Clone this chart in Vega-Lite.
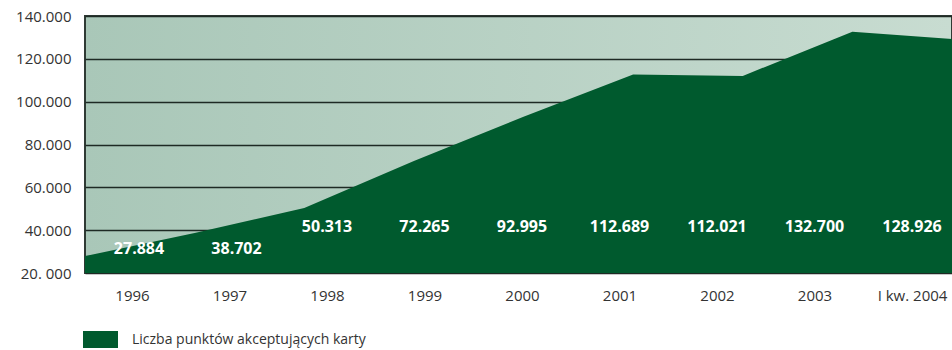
{
  "$schema": "https://vega.github.io/schema/vega-lite/v6.json",
  "autosize": "none",
  "width": 867,
  "height": 257,
  "padding": {"left": 85, "top": 16, "right": 0, "bottom": 77},
  "background": "white",
  "config": {
    "font": "Open Sans",
    "locale": {"number": {"decimal": ",", "thousands": ".", "grouping": [3], "currency": ["", " zł"]}},
    "view": {
      "stroke": "#2f3a34",
      "strokeWidth": 2,
      "fill": {
        "gradient": "linear",
        "x1": 0, "y1": 0, "x2": 1, "y2": 0,
        "stops": [
          {"offset": 0, "color": "#a9c7b8"},
          {"offset": 1, "color": "#c8dcd1"}
        ]
      }
    }
  },
  "data": {
    "values": [
      {"year": "1996", "value": 27884, "series": "Liczba punktów akceptujących karty"},
      {"year": "1997", "value": 38702, "series": "Liczba punktów akceptujących karty"},
      {"year": "1998", "value": 50313, "series": "Liczba punktów akceptujących karty"},
      {"year": "1999", "value": 72265, "series": "Liczba punktów akceptujących karty"},
      {"year": "2000", "value": 92995, "series": "Liczba punktów akceptujących karty"},
      {"year": "2001", "value": 112689, "series": "Liczba punktów akceptujących karty"},
      {"year": "2002", "value": 112021, "series": "Liczba punktów akceptujących karty"},
      {"year": "2003", "value": 132700, "series": "Liczba punktów akceptujących karty"},
      {"year": "I kw. 2004", "value": 128926, "series": "Liczba punktów akceptujących karty"}
    ]
  },
  "layer": [
    {
      "mark": {"type": "area", "clip": true, "interpolate": "linear"},
      "encoding": {
        "x": {
          "field": "year", "type": "ordinal", "sort": null,
          "scale": {"type": "point", "range": [0, 877], "padding": 0},
          "axis": null
        },
        "y": {
          "field": "value", "type": "quantitative",
          "scale": {"domain": [20000, 140000], "zero": false, "nice": false},
          "axis": {
            "values": [20000, 40000, 60000, 80000, 100000, 120000, 140000],
            "labelExpr": "datum.value == 20000 ? '20. 000' : format(datum.value, ',d')",
            "title": null,
            "domain": false,
            "ticks": false,
            "grid": true,
            "gridColor": "#1e2a24",
            "gridWidth": 1.3,
            "gridOpacity": 1,
            "labelFontSize": 15,
            "labelColor": "#333333",
            "labelPadding": 14,
            "labelFont": "Open Sans"
          }
        },
        "y2": {"datum": 20000},
        "color": {
          "field": "series", "type": "nominal",
          "scale": {"range": ["#005a2e"]},
          "legend": {
            "title": null,
            "orient": "none",
            "legendX": -2,
            "legendY": 306,
            "symbolType": "M-1,-0.486 H1 V0.486 H-1 Z",
            "symbolSize": 1225,
            "symbolStrokeWidth": 0,
            "symbolOpacity": 1,
            "labelFontSize": 14,
            "labelLimit": 0,
            "labelColor": "#333333",
            "labelFont": "Open Sans",
            "labelOffset": 14
          }
        }
      }
    },
    {
      "mark": {"type": "text", "color": "white", "fontWeight": "bold", "fontSize": 16, "dx": 7, "font": "Open Sans"},
      "encoding": {
        "x": {"field": "year", "type": "ordinal", "sort": null, "scale": {"type": "point", "range": [47, 827], "padding": 0}, "axis": null},
        "y": {"datum": 31200},
        "text": {"condition": {"test": "datum.value < 45000", "field": "value", "type": "quantitative", "format": ",d"}, "value": ""}
      }
    },
    {
      "mark": {"type": "text", "color": "white", "fontWeight": "bold", "fontSize": 16, "font": "Open Sans"},
      "encoding": {
        "x": {"field": "year", "type": "ordinal", "sort": null, "scale": {"type": "point", "range": [47, 827], "padding": 0}, "axis": null},
        "y": {"datum": 41500},
        "text": {"condition": {"test": "datum.value >= 45000", "field": "value", "type": "quantitative", "format": ",d"}, "value": ""}
      }
    },
    {
      "mark": {"type": "text", "opacity": 0},
      "encoding": {
        "x": {
          "field": "year", "type": "ordinal", "sort": null,
          "scale": {"type": "point", "range": [47, 827], "padding": 0},
          "axis": {
            "title": null, "domain": false, "ticks": false,
            "labelAngle": 0, "labelFontSize": 15, "labelColor": "#333333",
            "labelPadding": 15, "labelFont": "Open Sans"
          }
        },
        "y": {"datum": 20000},
        "text": {"value": ""}
      }
    }
  ],
  "resolve": {"scale": {"x": "independent"}}
}
